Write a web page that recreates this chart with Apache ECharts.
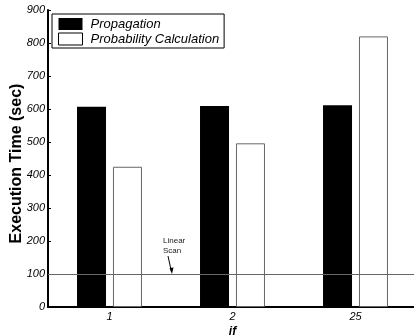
<!DOCTYPE html>
<html><head><meta charset="utf-8">
<script src="https://cdn.jsdelivr.net/npm/echarts@6/dist/echarts.min.js"></script>
<style>html,body{margin:0;padding:0;background:#fff}#c{width:414px;height:335px}</style>
</head><body><div id="c"></div>
<script>
const categories = ['1', '2', '25'];
const propagation = [607, 609, 611];
const probabilityCalc = [425, 496, 820];
const linearScan = 100;
const yTicks = [0, 100, 200, 300, 400, 500, 600, 700, 800, 900];

const chart = echarts.init(document.getElementById('c'), null, {renderer: 'canvas'});
const font = '"Liberation Sans", Arial, Helvetica, sans-serif';
const yAxisBase = {
  type: 'value', min: yTicks[0], max: yTicks[yTicks.length - 1], interval: 100,
  splitLine: {show: false}
};
chart.setOption({
  animation: false,
  textStyle: {fontFamily: font},
  grid: {left: 48, right: -3, top: 10, bottom: 28, containLabel: false, outerBoundsMode: 'none'},
  legend: {
    orient: 'vertical', left: 52, top: 14, icon: 'rect',
    padding: [3, 5, 2, 6], itemGap: 1, itemWidth: 24, itemHeight: 12,
    borderColor: '#000', borderWidth: 1,
    textStyle: {fontFamily: font, fontStyle: 'italic', fontSize: 13, color: '#000', lineHeight: 14, padding: [0, 0, 0, 3]},
    data: [
      {name: 'Propagation', itemStyle: {color: '#000', borderWidth: 0}},
      {name: 'Probability Calculation', itemStyle: {color: '#fff', borderColor: '#000', borderWidth: 1}}
    ]
  },
  xAxis: [{
    type: 'category', data: categories, position: 'bottom',
    name: 'if', nameLocation: 'middle', nameGap: 19, nameMoveOverlap: false,
    nameTextStyle: {fontFamily: font, fontWeight: 'bold', fontStyle: 'italic', fontSize: 12, color: '#000'},
    axisLine: {lineStyle: {color: '#000', width: 2}},
    axisTick: {alignWithLabel: true, inside: true, length: 3, lineStyle: {color: '#000'}},
    axisLabel: {fontFamily: font, fontStyle: 'italic', fontSize: 11, color: '#000', margin: 4}
  }, {
    type: 'category', data: categories, position: 'top',
    axisLine: {lineStyle: {color: '#000', width: 1.5}},
    axisTick: {alignWithLabel: true, inside: true, length: 3, lineStyle: {color: '#000'}},
    axisLabel: {show: false}
  }],
  yAxis: [Object.assign({}, yAxisBase, {
    position: 'left',
    name: 'Execution Time (sec)', nameLocation: 'middle', nameGap: 23, nameMoveOverlap: false,
    nameTextStyle: {fontFamily: font, fontWeight: 'bold', fontSize: 16, color: '#000', padding: [0, 10, 0, 0]},
    axisLine: {show: true, lineStyle: {color: '#000', width: 2}},
    axisTick: {show: true, inside: true, length: 3, lineStyle: {color: '#000'}},
    axisLabel: {fontFamily: font, fontStyle: 'italic', fontSize: 11, color: '#000', margin: 3}
  }), Object.assign({}, yAxisBase, {
    position: 'right',
    axisLine: {show: true, lineStyle: {color: '#000', width: 1}},
    axisTick: {show: true, inside: true, length: 3, lineStyle: {color: '#000'}},
    axisLabel: {show: false}
  })],
  series: [
    {
      type: 'line', data: [], z: 1, silent: true,
      markLine: {
        silent: true, symbol: 'none', label: {show: false},
        lineStyle: {color: '#666', width: 1, type: 'solid'},
        data: [{yAxis: linearScan}]
      }
    },
    {
      name: 'Propagation', type: 'bar', data: propagation, z: 3,
      barWidth: 29, barGap: '24%',
      itemStyle: {color: '#000'}
    },
    {
      name: 'Probability Calculation', type: 'bar', data: probabilityCalc, z: 3,
      barWidth: 29,
      itemStyle: {color: 'rgba(255,255,255,0)', borderColor: '#666', borderWidth: 1}
    }
  ],
  graphic: [
    {type: 'text', left: 163, top: 236, style: {text: 'Linear\nScan', font: '8px ' + font, fill: '#222', lineHeight: 10}},
    {type: 'line', shape: {x1: 168, y1: 256, x2: 171.5, y2: 272}, style: {stroke: '#000', lineWidth: 1}},
    {type: 'polygon', shape: {points: [[169.5, 268], [173.5, 267.5], [172, 274]]}, style: {fill: '#000'}}
  ]
});
</script></body></html>
